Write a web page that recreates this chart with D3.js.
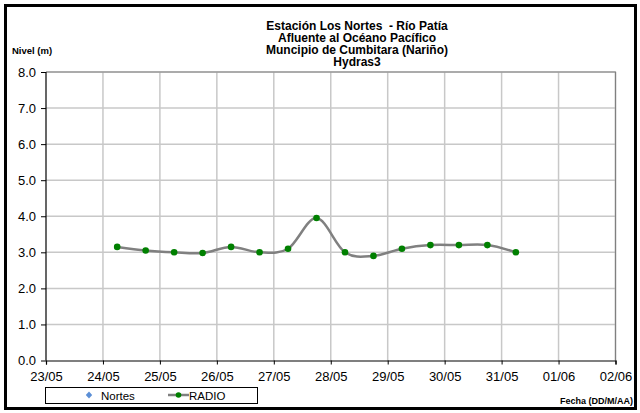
<!DOCTYPE html>
<html><head><meta charset="utf-8">
<script src="https://cdn.jsdelivr.net/npm/d3@7"></script>
<style>body{margin:0;background:#fff}svg{display:block;font-family:Arial,"Liberation Sans",sans-serif}</style>
</head><body><svg id="c" width="640" height="413"></svg>
<script>
const titleLines = ["Estación Los Nortes  - Río Patía","Afluente al Océano Pacífico","Muncipio de Cumbitara (Nariño)","Hydras3"];
const xTickLabels = ["23/05","24/05","25/05","26/05","27/05","28/05","29/05","30/05","31/05","01/06","02/06"];
const yTicks = [0,1,2,3,4,5,6,7,8];
// times in days after 23/05 00:00
const radioTimes = [1.25,1.75,2.25,2.75,3.25,3.75,4.25,4.75,5.25,5.75,6.25,6.75,7.25,7.75,8.25];
const radioValues = [3.15,3.05,3.00,2.98,3.15,3.00,3.10,3.95,3.00,2.90,3.10,3.20,3.20,3.20,3.00];

const svg = d3.select("#c");
const L=46, R=615.5, T=72, B=360.5;
const x = d3.scaleLinear().domain([0,10]).range([L,R]);
const y = d3.scaleLinear().domain([0,8]).range([B,T]);

svg.append("rect").attr("x",5.5).attr("y",5.5).attr("width",630).attr("height",403)
  .attr("fill","#fff").attr("stroke","#000").attr("stroke-width",3);

// grid
svg.append("g").selectAll("line").data(d3.range(1,11)).join("line")
  .attr("x1",d=>x(d)).attr("x2",d=>x(d)).attr("y1",T).attr("y2",B)
  .attr("stroke","#c8c8c8").attr("stroke-width",1.5);
svg.append("g").selectAll("line").data(yTicks.slice(1)).join("line")
  .attr("x1",L).attr("x2",R).attr("y1",d=>y(d)).attr("y2",d=>y(d))
  .attr("stroke","#c8c8c8").attr("stroke-width",1.5);
// plot border right/top
svg.append("path").attr("d",`M${L},${T}H${R}V${B}`).attr("fill","none").attr("stroke","#808080").attr("stroke-width",1.2);

// axes
const yAxis = d3.axisLeft(y).tickValues(yTicks).tickFormat(d3.format(".1f")).tickSize(5).tickPadding(5);
const gy = svg.append("g").attr("transform",`translate(${L},0)`).call(yAxis);
const xAxis = d3.axisBottom(x).tickValues(d3.range(0,11)).tickFormat((d,i)=>xTickLabels[i]).tickSize(4).tickPadding(7);
const gx = svg.append("g").attr("transform",`translate(0,${B})`).call(xAxis);
[gx,gy].forEach(g=>{
  g.select(".domain").attr("stroke","#000").attr("stroke-width",1.2);
  g.selectAll(".tick line").attr("stroke","#000");
  g.selectAll("text").attr("font-size",13).attr("fill","#000").attr("font-family","Arial, 'Liberation Sans', sans-serif");
});
gy.select(".domain").attr("d",`M0,${B}V${T}`);

// line
const pts = radioTimes.map((t,i)=>[t,radioValues[i]]);
svg.append("path").datum(pts)
  .attr("d",d3.line().x(d=>x(d[0])).y(d=>y(d[1])).curve(d3.curveCardinal.tension(0)))
  .attr("fill","none").attr("stroke","#808080").attr("stroke-width",2.5);
svg.append("g").selectAll("circle").data(pts).join("circle")
  .attr("cx",d=>x(d[0])).attr("cy",d=>y(d[1])).attr("r",3.3).attr("fill","#008000");

// title
svg.append("g").selectAll("text").data(titleLines).join("text")
  .attr("x",357).attr("y",(d,i)=>29.5+i*12).attr("text-anchor","middle")
  .attr("font-size",12).attr("font-weight","bold").style("white-space","pre").text(d=>d);

svg.append("text").attr("x",12).attr("y",54).attr("font-size",9.5).attr("font-weight","bold").text("Nivel (m)");
svg.append("text").attr("x",633).attr("y",404).attr("text-anchor","end").attr("font-size",9).attr("font-weight","bold").text("Fecha (DD/M/AA)");

// legend
const lg = svg.append("g");
lg.append("rect").attr("x",45.5).attr("y",387.5).attr("width",212).attr("height",16).attr("fill","#fff").attr("stroke","#000").attr("stroke-width",1);
lg.append("path").attr("d","M89,391.5 l3.2,3.5 l-3.2,3.5 l-3.2,-3.5z").attr("fill","#5b8fd6");
lg.append("text").attr("x",101).attr("y",399.5).attr("font-size",11.5).text("Nortes");
lg.append("line").attr("x1",168).attr("x2",189).attr("y1",395).attr("y2",395).attr("stroke","#808080").attr("stroke-width",2.5);
lg.append("circle").attr("cx",178.5).attr("cy",395).attr("r",2.8).attr("fill","#008000");
lg.append("text").attr("x",189).attr("y",399.5).attr("font-size",11.5).text("RADIO");
</script></body></html>
